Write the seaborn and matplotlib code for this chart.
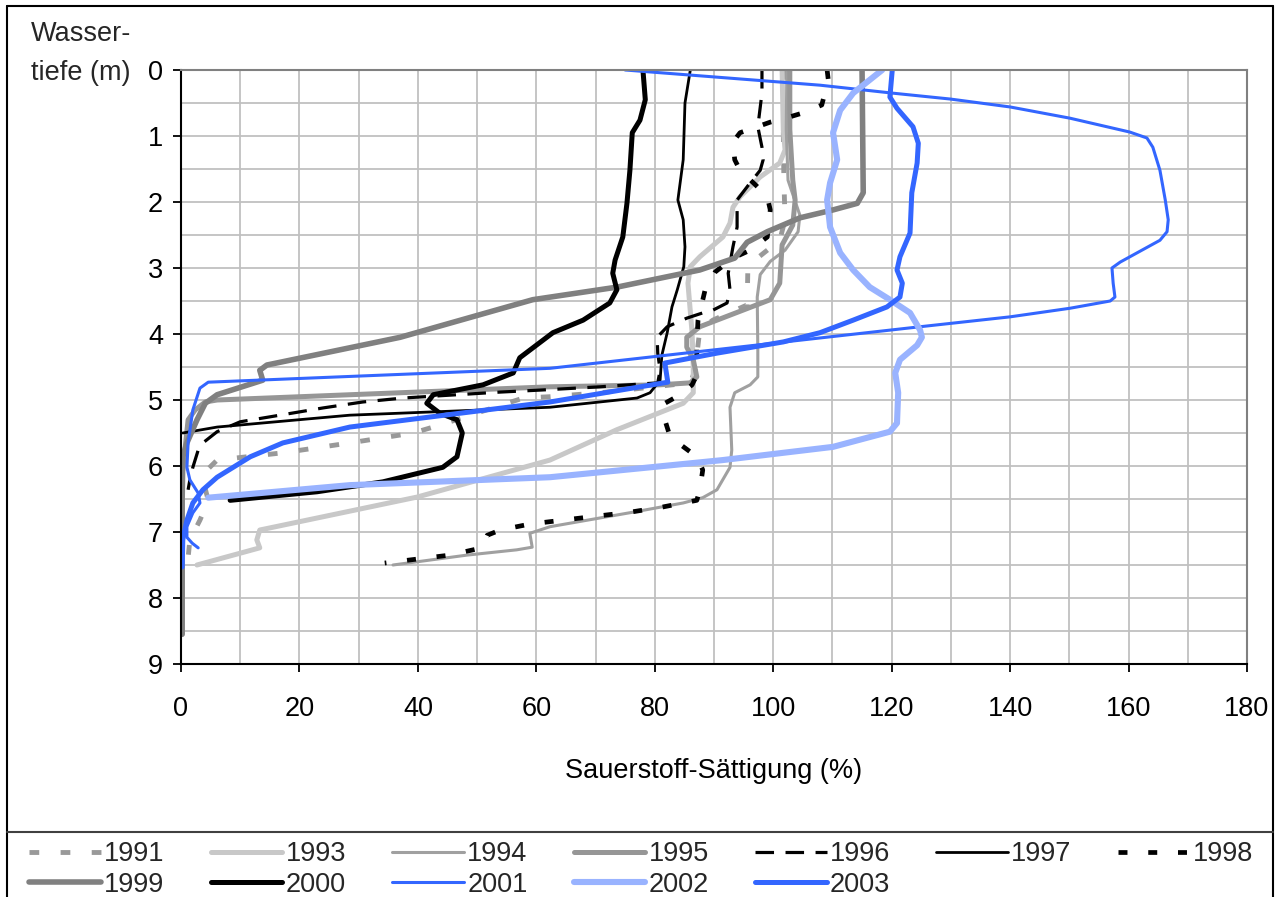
import numpy as np
import pandas as pd
import matplotlib
matplotlib.use("Agg")
import matplotlib.pyplot as plt
from matplotlib.lines import Line2D
import seaborn as sns

# ---------------- data (saturation %, depth m) ----------------
years = ["1991", "1993", "1994", "1995", "1996", "1997", "1998",
         "1999", "2000", "2001", "2002", "2003"]

x_1991 = [101.8, 101.7, 101.8, 102.0, 101.1, 96.9, 95.7, 95.6, 89.8, 87.6, 86.8, 86.0, 70.8, 62.3,
          57.8, 43.7, 39.2, 28.5, 17.2, 6.1, 4.4, 3.7, 4.6, 3.2, 1.5, 1.2]
d_1991 = [0.0, 0.9, 1.67, 2.27, 2.58, 2.88, 3.08, 3.56, 3.79, 3.94, 4.55, 4.74, 4.89, 4.95,
          4.97, 5.38, 5.5, 5.65, 5.8, 5.91, 6.06, 6.21, 6.52, 6.82, 7.12, 7.39]

x_1993 = [101.5, 101.7, 102.0, 101.1, 97.8, 94.4, 93.2, 92.7, 91.5, 87.6, 86.0, 85.6, 86.3, 86.5,
          86.5, 84.8, 73.6, 62.3, 39.9, 13.3, 12.8, 13.3, 2.7]
d_1993 = [0.0, 0.91, 1.21, 1.41, 1.62, 1.92, 2.08, 2.32, 2.53, 2.83, 2.98, 3.23, 3.98, 4.5,
          4.89, 5.05, 5.45, 5.91, 6.47, 6.97, 7.12, 7.24, 7.5]

x_1994 = [102.3, 102.2, 102.5, 104.5, 104.2, 102.0, 99.5, 97.8, 97.3, 97.4, 97.4, 96.1, 93.5, 92.7,
          93.0, 92.7, 90.5, 88.1, 84.8, 76.3, 62.3, 58.9, 59.3, 56.7, 48.3, 35.8]
d_1994 = [0.0, 0.9, 1.67, 2.2, 2.45, 2.73, 2.9, 3.1, 3.44, 4.24, 4.65, 4.77, 4.89, 5.11,
          5.76, 6.02, 6.36, 6.48, 6.56, 6.7, 6.92, 7.02, 7.23, 7.27, 7.35, 7.5]

x_1995 = [102.8, 102.8, 103.3, 103.7, 103.3, 101.5, 101.1, 99.5, 87.6, 85.4, 85.4, 86.5, 87.1, 86.0,
          80.9, 62.3, 6.1, 4.1, 2.4, 1.2, 0.3]
d_1995 = [0.0, 0.9, 1.67, 1.97, 2.35, 2.65, 3.23, 3.48, 3.89, 4.05, 4.2, 4.39, 4.65, 4.74,
          4.77, 4.8, 5.0, 5.03, 5.15, 5.3, 6.06]

x_1996 = [98.1, 98.1, 97.4, 98.1, 98.3, 97.8, 96.1, 93.9, 93.9, 93.2, 92.4, 92.7, 92.2, 89.8, 88.1,
          85.4, 82.1, 80.4, 80.5, 80.9, 80.5, 70.8, 60.6, 53.9, 37.5, 30.7, 24.0, 16.7, 10.0, 6.1,
          3.7, 2.9, 2.0, 1.5, 1.2]
d_1996 = [0.0, 0.35, 0.86, 1.17, 1.36, 1.52, 1.71, 1.97, 2.38, 2.68, 3.08, 3.33, 3.53, 3.64, 3.68,
          3.76, 3.89, 4.05, 4.29, 4.55, 4.74, 4.8, 4.85, 4.88, 4.97, 5.03, 5.12, 5.23, 5.33, 5.48,
          5.65, 5.76, 6.02, 6.21, 6.36]

x_1997 = [86.0, 85.1, 84.8, 83.9, 84.8, 85.1, 84.9, 83.8, 82.9, 82.1, 81.2, 80.9, 79.2, 77.0,
          62.3, 28.5, 6.1, 0.3]
d_1997 = [0.0, 0.5, 1.36, 1.97, 2.27, 2.68, 2.98, 3.33, 3.59, 3.98, 4.32, 4.7, 4.89, 4.97,
          5.11, 5.23, 5.41, 5.5]

x_1998 = [109.1, 109.3, 108.2, 105.4, 102.8, 99.5, 97.3, 94.4, 93.2, 93.5, 94.4, 97.0, 99.0, 99.5,
          99.0, 96.1, 93.2, 90.2, 88.5, 87.3, 87.1, 87.1, 86.3, 84.3, 81.7, 81.7, 82.6, 87.1, 88.1,
          87.6, 87.1, 81.4, 75.8, 64.5, 58.9, 53.9, 51.7, 50.8, 45.4, 34.4]
d_1998 = [0.0, 0.15, 0.53, 0.64, 0.71, 0.79, 0.86, 0.95, 1.09, 1.36, 1.52, 1.74, 1.92, 2.12,
          2.53, 2.73, 2.85, 3.06, 3.33, 3.79, 4.14, 4.62, 4.77, 4.92, 5.05, 5.3, 5.56, 5.86, 6.06,
          6.36, 6.52, 6.62, 6.7, 6.82, 6.88, 6.97, 7.05, 7.24, 7.35, 7.47]

x_1999 = [115.0, 115.2, 114.2, 110.1, 104.5, 99.0, 95.6, 93.5, 87.6, 73.6, 59.4, 37.0, 14.5, 13.3,
          13.8, 6.1, 4.1, 2.7, 1.0, 0.3, 0.2, 0.2]
d_1999 = [0.0, 1.86, 2.02, 2.12, 2.24, 2.45, 2.61, 2.85, 3.03, 3.29, 3.48, 4.05, 4.47, 4.55,
          4.7, 4.92, 5.05, 5.3, 5.65, 5.86, 6.5, 8.55]

x_2000 = [78.0, 78.4, 77.5, 76.2, 75.8, 75.3, 74.6, 73.3, 72.9, 73.6, 72.4, 67.9, 62.8, 57.2,
          56.1, 51.0, 42.6, 41.5, 43.7, 46.6, 47.5, 46.6, 44.2, 34.1, 23.0, 8.3]
d_2000 = [0.0, 0.45, 0.76, 0.95, 1.52, 2.02, 2.53, 2.88, 3.08, 3.33, 3.53, 3.79, 3.98, 4.36,
          4.59, 4.77, 4.92, 5.05, 5.2, 5.3, 5.5, 5.86, 6.02, 6.24, 6.39, 6.52]

x_2001 = [75.0, 107.9, 120.1, 129.9, 140.0, 150.1, 160.2, 163.1, 164.1, 165.3, 166.2, 166.7, 166.5,
          165.3, 158.6, 157.2, 157.4, 157.7, 156.9, 150.1, 140.0, 124.8, 107.9, 62.3, 4.6, 3.2,
          2.0, 1.2, 1.0, 1.5, 2.9, 3.2, 2.0, 1.0, 1.0, 1.9, 2.9]
d_2001 = [0.0, 0.23, 0.35, 0.44, 0.56, 0.73, 0.94, 1.03, 1.17, 1.52, 1.97, 2.27, 2.45,
          2.58, 2.91, 3.0, 3.23, 3.44, 3.5, 3.61, 3.74, 3.89, 4.06, 4.52, 4.73, 4.82,
          5.15, 5.65, 6.02, 6.21, 6.41, 6.56, 6.71, 6.92, 7.08, 7.17, 7.24]

x_2002 = [118.4, 113.5, 111.3, 110.1, 110.8, 109.6, 109.1, 109.6, 111.3, 113.5, 116.3, 119.7,
          123.1, 124.8, 125.1, 124.3, 121.4, 120.6, 121.1, 120.9, 119.7, 110.1, 101.7, 91.5,
          79.2, 62.3, 28.5, 4.6]
d_2002 = [0.0, 0.35, 0.61, 0.95, 1.36, 1.71, 1.97, 2.38, 2.77, 3.03, 3.29, 3.48, 3.68, 3.94,
          4.05, 4.17, 4.39, 4.59, 4.89, 5.35, 5.48, 5.71, 5.8, 5.91, 6.02, 6.17, 6.29, 6.48]

x_2003 = [120.1, 119.7, 120.9, 123.6, 124.5, 124.3, 123.4, 123.1, 121.4, 120.9, 121.8, 121.4,
          119.2, 113.5, 107.9, 101.7, 90.5, 81.7, 82.2, 62.3, 28.5, 17.2, 11.7, 6.1, 3.7, 2.0,
          1.0, 0.3, 0.2]
d_2003 = [0.0, 0.41, 0.58, 0.86, 1.11, 1.41, 1.86, 2.47, 2.83, 3.03, 3.23, 3.44, 3.59, 3.79,
          3.98, 4.12, 4.29, 4.44, 4.73, 5.03, 5.41, 5.65, 5.86, 6.17, 6.36, 6.56, 6.82, 7.12, 7.53]

x_ticks = [0, 20, 40, 60, 80, 100, 120, 140, 160, 180]
y_ticks = [0, 1, 2, 3, 4, 5, 6, 7, 8, 9]

series = {
    "1991": (x_1991, d_1991), "1993": (x_1993, d_1993), "1994": (x_1994, d_1994),
    "1995": (x_1995, d_1995), "1996": (x_1996, d_1996), "1997": (x_1997, d_1997),
    "1998": (x_1998, d_1998), "1999": (x_1999, d_1999), "2000": (x_2000, d_2000),
    "2001": (x_2001, d_2001), "2002": (x_2002, d_2002), "2003": (x_2003, d_2003),
}

styles = {
    "1991": dict(color="#999999", lw=3.5, ls=(0, (2.0, 4.4))),
    "1993": dict(color="#c8c8c8", lw=3.6, ls="-"),
    "1994": dict(color="#a0a0a0", lw=2.2, ls="-"),
    "1995": dict(color="#969696", lw=3.6, ls="-"),
    "1996": dict(color="#000000", lw=2.3, ls=(0, (5.8, 3.6))),
    "1997": dict(color="#000000", lw=2.0, ls="-"),
    "1998": dict(color="#000000", lw=3.4, ls=(0, (1.9, 4.4))),
    "1999": dict(color="#808080", lw=4.0, ls="-"),
    "2000": dict(color="#000000", lw=3.6, ls="-"),
    "2001": dict(color="#3366ff", lw=2.2, ls="-"),
    "2002": dict(color="#99b3ff", lw=4.4, ls="-"),
    "2003": dict(color="#3366ff", lw=3.6, ls="-"),
}

# ---------------- figure ----------------
sns.set_theme(style="white")
plt.rcParams["font.family"] = ["Liberation Sans", "DejaVu Sans"]
FS = 19.5

fig = plt.figure(figsize=(12.77, 8.97), dpi=100)
ax = fig.add_axes([181 / 1277, 1 - 664 / 897, (1247 - 181) / 1277, (664 - 70) / 897])

for yr in years:
    xs, ds = series[yr]
    df = pd.DataFrame({"sat": xs, "depth": ds})
    st = styles[yr]
    sns.lineplot(data=df, x="sat", y="depth", sort=False, estimator=None, ax=ax,
                 color=st["color"], linewidth=st["lw"], linestyle=st["ls"],
                 solid_joinstyle="round", dash_joinstyle="round",
                 label=yr, legend=False)

ax.set_xlim(0, 180)
ax.set_ylim(9, 0)
ax.set_xticks(x_ticks)
ax.set_yticks(y_ticks)
ax.set_xticks(np.arange(0, 181, 10), minor=True)
ax.set_yticks(np.arange(0, 9.01, 0.5), minor=True)
ax.set_xticklabels([str(v) for v in x_ticks], fontsize=FS)
ax.set_yticklabels([str(v) for v in y_ticks], fontsize=FS)
ax.grid(which="both", color="#c0c0c0", lw=1.3)
ax.set_axisbelow(True)
ax.tick_params(axis="both", which="major", direction="out", length=6, width=1.3,
               color="black", labelcolor="black")
ax.tick_params(axis="x", which="major", pad=17, bottom=True, top=False)
ax.tick_params(axis="y", which="major", pad=7, left=True, right=False)
ax.tick_params(which="minor", length=0)
for s in ["left", "bottom"]:
    ax.spines[s].set_color("black")
    ax.spines[s].set_linewidth(1.5)
for s in ["top", "right"]:
    ax.spines[s].set_color("#808080")
    ax.spines[s].set_linewidth(1.5)

ax.set_xlabel("Sauerstoff-Sättigung (%)", fontsize=FS, color="black")
ax.xaxis.set_label_coords(0.5, -(771 - 664) / 594)
ax.xaxis.label.set_va("center")
ax.set_ylabel("")

fig.text(31 / 1277, 1 - 41 / 897, "Wasser-", fontsize=FS, ha="left", va="baseline")
fig.text(31 / 1277, 1 - 80 / 897, "tiefe (m)", fontsize=FS, ha="left", va="baseline")

# legend (row-major order arranged for column-major filling)
h, l = ax.get_legend_handles_labels()
hd = dict(zip(l, h))
order = ["1991", "1999", "1993", "2000", "1994", "2001", "1995", "2002", "1996", "2003",
         "1997", "1998"]
fig.legend([hd[k] for k in order], order, loc="upper left",
           bbox_to_anchor=(29 / 1277, 1 - 841 / 897), ncol=7, frameon=False,
           fontsize=FS, handlelength=2.65, handletextpad=0.12, columnspacing=1.7,
           labelspacing=0.18, borderpad=0, borderaxespad=0)

# outer chart frame and legend separator
W, H = 1277, 897
def fl(x0, y0, x1, y1, c="black", lw=1.5):
    fig.add_artist(Line2D([x0 / W, x1 / W], [1 - y0 / H, 1 - y1 / H], color=c, lw=lw))
fl(7, 6, 1273, 6)
fl(7, 6, 7, 897)
fl(1273, 6, 1273, 897)
fl(7, 832, 1273, 832, c="#404040")

fig.savefig("out.png", dpi=100)
